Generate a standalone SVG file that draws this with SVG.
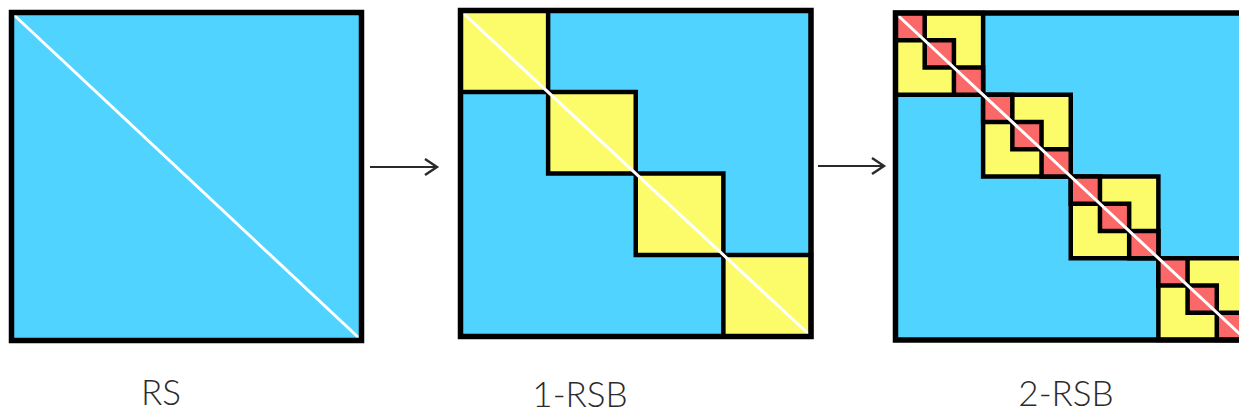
<svg xmlns="http://www.w3.org/2000/svg" xmlns:xlink="http://www.w3.org/1999/xlink" width="1239" height="414" viewBox="0 0 1239 414">
  <style>
    .bg { fill: #50D4FF; }
    .frame { fill: none; stroke: #000; stroke-width: 5.5; }
    .yb { fill: #FCFC6A; stroke: #000; stroke-width: 4.5; }
    .rb { fill: #FA6868; stroke: #000; stroke-width: 4.5; }
    .diag { stroke: #fff; stroke-width: 3; stroke-linecap: round; }
    .arrow { fill: none; stroke: #2a2a2a; stroke-width: 2.2; }
    .label { font-family: "Lato", "Open Sans", "Liberation Sans", sans-serif; font-weight: 300; font-size: 35px; fill: #2b2b2b; text-anchor: middle; }
  </style>
  <defs>
    <marker id="chev" markerUnits="userSpaceOnUse" markerWidth="16" markerHeight="20" refX="13" refY="9" orient="auto" viewBox="0 0 16 20">
      <path d="M1,1 L13,9 L1,17" fill="none" stroke="#2a2a2a" stroke-width="2.4" stroke-linejoin="miter"/>
    </marker>
    <g id="blk3">
      <rect class="yb" x="0" y="0" width="87.625" height="81.75"/>
      <rect class="rb" x="0" y="0" width="29.208" height="27.25"/>
      <rect class="rb" x="29.208" y="27.25" width="29.208" height="27.25"/>
      <rect class="rb" x="58.417" y="54.5" width="29.208" height="27.25"/>
    </g>
  </defs>

  <g id="rs">
    <rect class="bg" x="11.5" y="12.5" width="350" height="328"/>
    <line class="diag" x1="14.5" y1="15.5" x2="358.5" y2="337.5"/>
    <rect class="frame" x="11.5" y="12.5" width="350" height="328"/>
    <text class="label" x="161" y="405">RS</text>
  </g>

  <g id="rsb1">
    <rect class="bg" x="460.5" y="10.5" width="350.5" height="326"/>
    <rect class="yb" x="460.5" y="10.5" width="87.625" height="81.5"/>
    <rect class="yb" x="548.125" y="92" width="87.625" height="81.5"/>
    <rect class="yb" x="635.75" y="173.5" width="87.625" height="81.5"/>
    <rect class="yb" x="723.375" y="255" width="87.625" height="81.5"/>
    <line class="diag" x1="463.5" y1="13.5" x2="808" y2="333.5"/>
    <rect class="frame" x="460.5" y="10.5" width="350.5" height="326"/>
    <text class="label" x="580" y="407">1-RSB</text>
  </g>

  <g id="rsb2">
    <rect class="bg" x="895.5" y="13" width="350.5" height="327"/>
    <use xlink:href="#blk3" transform="translate(895.5,13)"/>
    <use xlink:href="#blk3" transform="translate(983.125,94.75)"/>
    <use xlink:href="#blk3" transform="translate(1070.75,176.5)"/>
    <use xlink:href="#blk3" transform="translate(1158.375,258.25)"/>
    <line class="diag" x1="898.5" y1="16" x2="1243" y2="337"/>
    <rect class="frame" x="895.5" y="13" width="350.5" height="327"/>
    <text class="label" x="1066" y="406">2-RSB</text>
  </g>

  <g id="connectors">
    <line class="arrow" x1="370" y1="167" x2="437" y2="167" marker-end="url(#chev)"/>
    <line class="arrow" x1="818" y1="166" x2="884" y2="166" marker-end="url(#chev)"/>
  </g>
</svg>
